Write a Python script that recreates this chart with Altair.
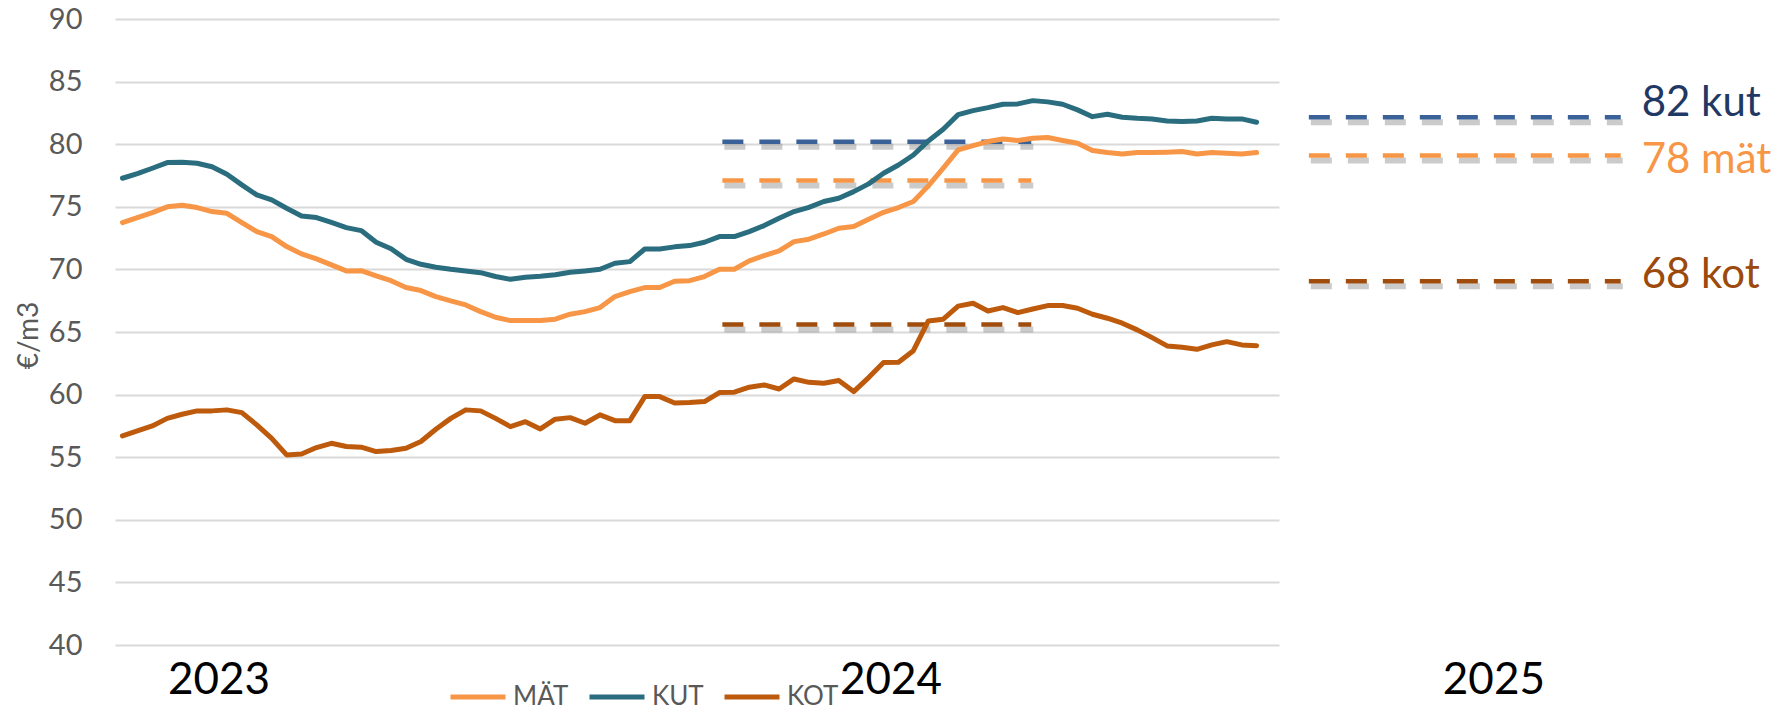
import altair as alt
import pandas as pd

# weekly index (0 = first week of 2023)
weeks = list(range(77))

mat = [73.74, 74.14, 74.54, 75.0, 75.12, 74.94, 74.62, 74.48, 73.74, 73.02,
       72.62, 71.82, 71.24, 70.84, 70.36, 69.88, 69.9, 69.48, 69.1, 68.55,
       68.31, 67.83, 67.48, 67.16, 66.63, 66.18, 65.91, 65.91, 65.91, 66.02,
       66.42, 66.63, 66.95, 67.83, 68.23, 68.55, 68.55, 69.05, 69.1, 69.43,
       70.01, 70.01, 70.68, 71.1, 71.48, 72.22, 72.41, 72.83, 73.29, 73.42,
       74.0, 74.56, 74.94, 75.42, 76.67, 78.08, 79.55, 79.89, 80.21, 80.42,
       80.29, 80.47, 80.53, 80.29, 80.07, 79.49, 79.33, 79.22, 79.33, 79.33,
       79.36, 79.41, 79.22, 79.33, 79.28, 79.22, 79.33]

kut = [77.28, 77.65, 78.08, 78.53, 78.56, 78.48, 78.2, 77.6, 76.75, 75.95,
       75.55, 74.88, 74.27, 74.14, 73.76, 73.34, 73.1, 72.17, 71.65, 70.81,
       70.41, 70.17, 70.01, 69.88, 69.74, 69.43, 69.21, 69.37, 69.45, 69.58,
       69.77, 69.88, 70.01, 70.49, 70.62, 71.63, 71.63, 71.8, 71.9, 72.17,
       72.62, 72.62, 73.02, 73.5, 74.08, 74.62, 74.96, 75.42, 75.68, 76.21,
       76.83, 77.68, 78.34, 79.14, 80.26, 81.19, 82.36, 82.68, 82.92, 83.19,
       83.22, 83.48, 83.38, 83.19, 82.74, 82.2, 82.39, 82.15, 82.07, 82.02,
       81.86, 81.81, 81.86, 82.07, 82.02, 82.02, 81.75]

kot = [56.7, 57.1, 57.5, 58.1, 58.43, 58.7, 58.7, 58.78, 58.56, 57.58,
       56.51, 55.18, 55.26, 55.77, 56.11, 55.85, 55.8, 55.45, 55.53, 55.71,
       56.25, 57.23, 58.1, 58.78, 58.7, 58.1, 57.44, 57.84, 57.26, 58.04,
       58.16, 57.71, 58.38, 57.92, 57.92, 59.84, 59.84, 59.33, 59.36, 59.44,
       60.16, 60.19, 60.59, 60.77, 60.45, 61.25, 60.98, 60.9, 61.12, 60.24,
       61.36, 62.56, 62.58, 63.51, 65.88, 66.02, 67.07, 67.3, 66.68, 66.95,
       66.55, 66.84, 67.11, 67.11, 66.9, 66.42, 66.1, 65.7, 65.17, 64.55,
       63.89, 63.78, 63.62, 63.97, 64.23, 63.97, 63.91]

series_names = ["MÄT", "KUT", "KOT"]
series_colors = ["#F79646", "#2A6D7F", "#BD5A0B"]

# reference (dashed) levels
mid_levels = [80.2, 77.1, 65.6]
mid_start, mid_end = 40.2, 60.9
right_levels = [82.15, 79.1, 69.05]
right_start, right_end = 79.5, 100.4
dash_colors = ["#3B6199", "#F79646", "#A04C0C"]

right_labels = ["82 kut", "78 mät", "68 kot"]
right_label_y = [82.26, 77.68, 68.5]
right_label_x = 101.8
right_label_colors = ["#1F3864", "#F79646", "#9C4A0B"]

year_labels = ["2023", "2024", "2025"]
year_x = [6.47, 51.5, 91.9]
year_y = 36.1

y_ticks = [40, 45, 50, 55, 60, 65, 70, 75, 80, 85, 90]

rows = []
for name, vals in zip(series_names, [mat, kut, kot]):
    for w, v in zip(weeks, vals):
        rows.append({"week": w, "value": v, "series": name})
df = pd.DataFrame(rows)

seg_rows = []
for lv, c in zip(mid_levels, dash_colors):
    seg_rows.append({"x": mid_start, "x2": mid_end, "value": lv, "col": c})
for lv, c in zip(right_levels, dash_colors):
    seg_rows.append({"x": right_start, "x2": right_end, "value": lv, "col": c})
seg_df = pd.DataFrame(seg_rows)

lab_df = pd.DataFrame({"week": [right_label_x] * 3, "value": right_label_y,
                       "text": right_labels, "col": right_label_colors})
year_df = pd.DataFrame({"week": year_x, "value": [year_y] * 3, "text": year_labels})

x_scale = alt.Scale(domain=[-0.5, 77.5], nice=False, zero=False)
y_scale = alt.Scale(domain=[40, 90], nice=False, zero=False)

y_axis = alt.Axis(values=y_ticks, grid=True, gridColor="#D9D9D9",
                  gridWidth=1.8, domain=False, ticks=False, labelPadding=33,
                  labelFont="Lato", labelFontSize=29, labelColor="#595959",
                  titleFont="Lato", titleFontSize=28, titleColor="#595959",
                  titleFontWeight="normal", titleAngle=-90, titleX=-78, titleY=316,
                  titleBaseline="alphabetic", titleAlign="center")


def yenc():
    return alt.Y("value:Q", scale=y_scale, axis=y_axis, title="€/m3")


lines = alt.Chart(df).mark_line(strokeWidth=5, strokeJoin="round", strokeCap="round").encode(
    x=alt.X("week:Q", scale=x_scale, axis=None),
    y=yenc(),
    color=alt.Color("series:N", sort=series_names,
                    scale=alt.Scale(domain=series_names, range=series_colors),
                    legend=alt.Legend(orient="none", legendX=333, legendY=648,
                                      direction="horizontal", columns=3, title=None,
                                      symbolType="stroke", symbolStrokeWidth=5,
                                      symbolSize=3025, labelFont="Lato", labelFontSize=26,
                                      labelColor="#595959", labelOffset=5,
                                      columnPadding=10, padding=0)),
)

shadow = alt.Chart(seg_df).mark_rule(strokeDash=[21, 16], strokeWidth=6, color="#8c8c8c",
                                     opacity=0.45, yOffset=5, xOffset=2, x2Offset=2).encode(
    x=alt.X("x:Q", scale=x_scale, axis=None),
    x2="x2:Q",
    y=yenc(),
)

dashes = alt.Chart(seg_df).mark_rule(strokeDash=[21, 16], strokeWidth=4.5).encode(
    x=alt.X("x:Q", scale=x_scale, axis=None),
    x2="x2:Q",
    y=yenc(),
    stroke=alt.Stroke("col:N", scale=None, legend=None),
)

labels = alt.Chart(lab_df).mark_text(align="left", baseline="alphabetic", font="Lato",
                                     fontSize=42).encode(
    x=alt.X("week:Q", scale=x_scale, axis=None),
    y=yenc(),
    text="text:N",
    fill=alt.Fill("col:N", scale=None, legend=None),
)

years = alt.Chart(year_df).mark_text(align="center", baseline="alphabetic", font="Lato",
                                     fontSize=44, color="#000000").encode(
    x=alt.X("week:Q", scale=x_scale, axis=None),
    y=yenc(),
    text="text:N",
)

chart = alt.layer(shadow, dashes, lines, labels, years).properties(
    width=1164, height=626,
    padding={"left": 107, "top": 11, "right": 496, "bottom": 65},
    autosize=alt.AutoSizeParams(type="none"),
    background="white",
).configure_view(stroke=None)

chart.save("out.html", embed_options={"renderer": "svg", "actions": False})
